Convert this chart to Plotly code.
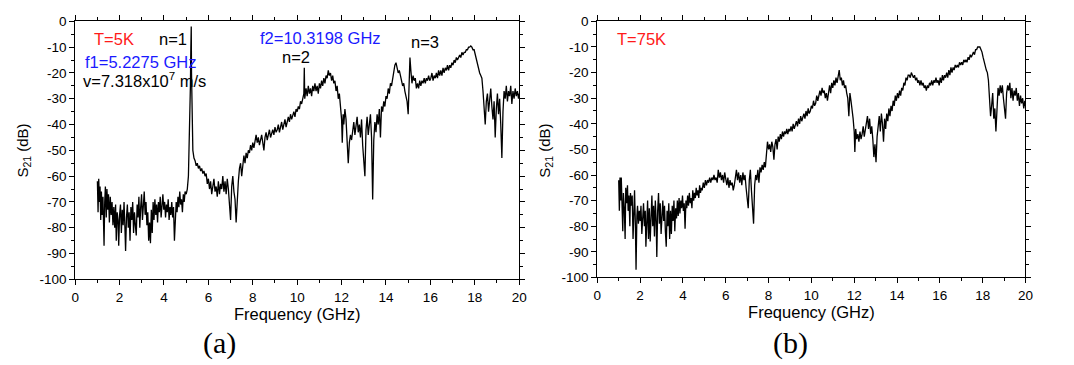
import plotly.graph_objects as go

# ---------------- data ----------------
freq_5K = [1.00,1.03,1.06,1.09,1.12,1.15,1.18,1.21,1.25,1.30,1.33,1.36,1.40,1.43,1.47,1.50,1.54,1.58,1.62,1.66,
           1.70,1.74,1.78,1.82,1.85,1.89,1.93,1.96,2.00,2.04,2.08,2.12,2.16,2.20,2.24,2.27,2.31,2.35,2.39,2.43,
           2.47,2.51,2.55,2.59,2.63,2.67,2.71,2.75,2.79,2.83,2.87,2.91,2.95,2.99,3.03,3.07,3.11,3.15,3.19,3.23,
           3.27,3.31,3.35,3.39,3.43,3.47,3.51,3.55,3.59,3.63,3.67,3.71,3.75,3.79,3.83,3.87,3.91,3.95,3.99,4.03,
           4.07,4.11,4.15,4.19,4.23,4.27,4.31,4.35,4.39,4.43,4.47,4.51,4.55,4.59,4.63,4.67,4.71,4.75,4.79,4.83,
           4.87,4.91,4.95,5.00,5.05,5.10,5.15,5.19,5.21,5.2275,5.24,5.27,5.30,5.35,5.40,5.45,5.50,5.55,5.60,5.65,
           5.70,5.75,5.80,5.85,5.90,5.95,6.00,6.05,6.10,6.15,6.20,6.25,6.30,6.35,6.40,6.45,6.50,6.55,6.60,6.65,
           6.70,6.75,6.80,6.85,6.90,6.95,7.00,7.05,7.10,7.15,7.20,7.25,7.30,7.35,7.40,7.45,7.50,7.55,7.60,7.65,
           7.70,7.75,7.80,7.85,7.90,7.95,8.00,8.05,8.10,8.15,8.20,8.25,8.30,8.35,8.40,8.45,8.50,8.55,8.60,8.65,
           8.70,8.75,8.80,8.85,8.90,8.95,9.00,9.05,9.10,9.15,9.20,9.25,9.30,9.35,9.40,9.45,9.50,9.55,9.60,9.65,
           9.70,9.75,9.80,9.85,9.90,9.95,10.00,10.05,10.10,10.15,10.20,10.25,10.30,10.32,10.34,10.40,10.45,10.50,10.55,10.60,
           10.65,10.70,10.75,10.80,10.85,10.90,10.95,11.00,11.05,11.10,11.15,11.20,11.25,11.30,11.35,11.40,11.45,11.50,11.55,11.60,
           11.65,11.70,11.75,11.80,11.85,11.90,11.95,12.00,12.03,12.07,12.10,12.15,12.20,12.25,12.30,12.35,12.40,12.45,12.50,12.55,
           12.60,12.65,12.70,12.75,12.80,12.85,12.90,12.95,13.00,13.05,13.10,13.15,13.20,13.25,13.30,13.35,13.40,13.45,13.50,13.55,
           13.60,13.65,13.70,13.75,13.80,13.85,13.90,13.95,14.00,14.05,14.10,14.15,14.20,14.25,14.30,14.35,14.40,14.45,14.50,14.55,
           14.60,14.65,14.70,14.75,14.80,14.85,14.90,14.95,15.00,15.05,15.08,15.12,15.17,15.22,15.27,15.32,15.37,15.42,15.47,15.52,
           15.57,15.62,15.67,15.72,15.77,15.82,15.87,15.92,15.97,16.02,16.07,16.12,16.17,16.22,16.27,16.32,16.37,16.42,16.47,16.52,
           16.57,16.62,16.67,16.72,16.77,16.82,16.87,16.92,16.97,17.02,17.07,17.12,17.17,17.22,17.27,17.32,17.37,17.42,17.47,17.52,
           17.57,17.62,17.67,17.72,17.77,17.82,17.87,17.92,17.97,18.02,18.07,18.12,18.17,18.22,18.27,18.32,18.37,18.42,18.47,18.52,
           18.57,18.62,18.67,18.72,18.77,18.82,18.87,18.92,18.97,19.02,19.07,19.12,19.17,19.22,19.27,19.32,19.37,19.42,19.47,19.52,
           19.57,19.62,19.67,19.72,19.77,19.82,19.87,19.92,19.97,20.00]
s21_5K = [-62,-74,-61,-70,-64,-77,-66,-75,-68,-87,-70,-64,-76,-65,-73,-67,-78,-68,-75,-70,
          -79,-72,-80,-71,-85,-74,-77,-87,-75,-71,-82,-73,-79,-70,-80,-89,-76,-71,-80,-74,
          -85,-72,-77,-70,-82,-74,-79,-83,-71,-76,-68,-80,-72,-67,-77,-69,-66,-75,-70,-79,
          -74,-85,-78,-86,-73,-82,-70,-77,-69,-75,-71,-78,-70,-74,-68,-76,-71,-67,-73,-70,
          -76,-71,-74,-69,-77,-72,-75,-70,-76,-72,-85,-73,-70,-74,-68,-72,-66,-71,-69,-74,
          -67,-70,-66,-67,-65,-60,-45,-25,-10,-2,-20,-42,-50,-53,-54,-56,-55,-57,-56,-58,
          -57,-59,-58,-60,-59,-63,-61,-65,-62,-67,-63,-61,-66,-64,-68,-62,-67,-63,-65,-60,
          -66,-62,-67,-61,-65,-70,-77,-64,-60,-66,-69,-78,-66,-62,-57,-55,-60,-56,-52,-55,
          -51,-53,-50,-51,-48,-50,-47,-49,-46,-44,-47,-45,-48,-46,-44,-47,-50,-45,-43,-46,
          -44,-42,-45,-43,-42,-44,-41,-43,-42,-40,-43,-41,-39,-42,-40,-38,-41,-38,-37,-39,
          -36,-38,-36,-35,-37,-34,-35,-33,-34,-31,-32,-30,-28,-18,-30,-26,-29,-25,-28,-26,
          -29,-25,-27,-24,-27,-25,-28,-24,-26,-23,-25,-22,-24,-21,-22,-19,-21,-20,-23,-21,
          -24,-23,-27,-25,-30,-28,-33,-38,-47,-36,-40,-34,-38,-45,-55,-47,-44,-46,-42,-39,
          -44,-41,-37,-43,-40,-45,-38,-48,-53,-60,-42,-37,-44,-40,-36,-45,-69,-46,-39,-43,
          -36,-40,-34,-45,-33,-35,-31,-33,-29,-30,-26,-28,-24,-25,-22,-19,-17,-16,-18,-20,
          -19,-22,-23,-25,-24,-27,-29,-31,-36,-24,-14,-19,-24,-21,-23,-22,-26,-24,-26,-23,
          -25,-23,-24,-22,-24,-22,-23,-21,-23,-22,-20,-23,-21,-22,-20,-22,-19,-21,-19,-21,
          -18,-20,-18,-19,-17,-19,-17,-18,-16,-17,-15,-16,-14,-15,-14,-13,-14,-12,-13,-12,
          -12,-11,-11,-10,-10,-9.5,-10,-11,-11,-13,-15,-16,-18,-20,-21,-22,-27,-34,-40,-31,
          -28,-35,-29,-26,-33,-38,-31,-45,-34,-28,-36,-30,-40,-53,-35,-27,-30,-25,-31,-27,
          -29,-25,-32,-27,-30,-26,-29,-27,-30,-28]

freq_75K = [1.00,1.03,1.06,1.09,1.12,1.16,1.19,1.22,1.26,1.30,1.33,1.37,1.41,1.44,1.48,1.52,1.55,1.59,1.63,1.67,
            1.71,1.74,1.78,1.81,1.85,1.88,1.92,1.96,2.00,2.04,2.08,2.12,2.16,2.20,2.24,2.27,2.31,2.35,2.39,2.43,
            2.47,2.51,2.55,2.59,2.63,2.67,2.71,2.75,2.78,2.82,2.86,2.90,2.94,2.98,3.02,3.06,3.10,3.14,3.18,3.22,
            3.26,3.30,3.34,3.38,3.42,3.46,3.50,3.54,3.58,3.62,3.66,3.70,3.74,3.78,3.82,3.86,3.90,3.94,3.98,4.02,
            4.06,4.10,4.14,4.18,4.22,4.26,4.30,4.34,4.38,4.42,4.46,4.50,4.54,4.58,4.62,4.66,4.70,4.74,4.78,4.82,
            4.86,4.90,4.95,5.00,5.05,5.10,5.15,5.20,5.25,5.30,5.35,5.40,5.45,5.50,5.55,5.60,5.65,5.70,5.75,5.80,
            5.85,5.90,5.95,6.00,6.05,6.10,6.15,6.20,6.25,6.30,6.35,6.40,6.45,6.50,6.55,6.60,6.65,6.70,6.75,6.80,
            6.85,6.90,6.95,7.00,7.05,7.10,7.15,7.20,7.25,7.30,7.35,7.40,7.45,7.50,7.55,7.60,7.65,7.70,7.75,7.80,
            7.85,7.90,7.95,8.00,8.05,8.10,8.15,8.20,8.25,8.30,8.35,8.40,8.45,8.50,8.55,8.60,8.65,8.70,8.75,8.80,
            8.85,8.90,8.95,9.00,9.05,9.10,9.15,9.20,9.25,9.30,9.35,9.40,9.45,9.50,9.55,9.60,9.65,9.70,9.75,9.80,
            9.85,9.90,9.95,10.00,10.05,10.10,10.15,10.20,10.25,10.30,10.35,10.40,10.45,10.50,10.55,10.60,10.65,10.70,10.75,10.80,
            10.85,10.90,10.95,11.00,11.05,11.10,11.15,11.20,11.25,11.30,11.35,11.40,11.45,11.50,11.55,11.60,11.65,11.70,11.75,11.80,
            11.85,11.90,11.95,12.00,12.03,12.07,12.12,12.17,12.22,12.27,12.32,12.37,12.42,12.47,12.52,12.57,12.62,12.67,12.72,12.77,
            12.82,12.87,12.92,12.97,13.02,13.07,13.12,13.17,13.22,13.27,13.32,13.37,13.42,13.47,13.52,13.57,13.62,13.67,13.72,13.77,
            13.82,13.87,13.92,13.97,14.02,14.07,14.12,14.17,14.22,14.27,14.32,14.37,14.42,14.47,14.52,14.57,14.62,14.67,14.72,14.77,
            14.82,14.87,14.92,14.97,15.02,15.07,15.12,15.17,15.22,15.27,15.32,15.37,15.42,15.47,15.52,15.57,15.62,15.67,15.72,15.77,
            15.82,15.87,15.92,15.97,16.02,16.07,16.12,16.17,16.22,16.27,16.32,16.37,16.42,16.47,16.52,16.57,16.62,16.67,16.72,16.77,
            16.82,16.87,16.92,16.97,17.02,17.07,17.12,17.17,17.22,17.27,17.32,17.37,17.42,17.47,17.52,17.57,17.62,17.67,17.72,17.77,
            17.82,17.87,17.92,17.97,18.02,18.07,18.12,18.17,18.22,18.27,18.32,18.37,18.42,18.47,18.52,18.57,18.62,18.67,18.72,18.77,
            18.82,18.87,18.92,18.97,19.02,19.07,19.12,19.17,19.22,19.27,19.32,19.37,19.42,19.47,19.52,19.57,19.62,19.67,19.72,19.77,
            19.82,19.87,19.92,19.97,20.00]
s21_75K = [-62,-74,-61,-70,-61,-75,-82,-67,-73,-85,-65,-71,-64,-74,-68,-80,-67,-72,-68,-85,
           -70,-66,-80,-97,-76,-72,-79,-74,-78,-72,-83,-75,-71,-80,-74,-88,-76,-70,-85,-73,
           -86,-75,-68,-80,-72,-84,-70,-78,-92,-74,-67,-79,-71,-83,-75,-70,-78,-72,-82,-88,
           -74,-80,-71,-85,-74,-83,-72,-78,-70,-82,-73,-77,-70,-76,-69,-75,-70,-73,-68,-74,
           -71,-81,-70,-73,-68,-72,-67,-71,-69,-73,-66,-70,-67,-69,-65,-68,-66,-69,-64,-67,
           -65,-66,-63,-65,-62,-64,-62,-63,-61,-63,-61,-62,-60,-62,-61,-63,-58,-61,-59,-62,
           -60,-63,-59,-62,-64,-61,-65,-62,-64,-63,-66,-64,-60,-58,-62,-59,-63,-60,-64,-59,
           -62,-60,-65,-68,-73,-62,-58,-66,-76,-79,-64,-60,-62,-58,-63,-57,-59,-56,-58,-55,
           -57,-53,-47,-50,-48,-51,-47,-49,-54,-48,-46,-50,-45,-47,-44,-46,-43,-45,-43,-44,
           -42,-44,-42,-43,-41,-43,-40,-42,-40,-39,-41,-38,-40,-37,-39,-37,-36,-38,-35,-37,
           -34,-36,-35,-33,-34,-31,-33,-32,-29,-31,-28,-27,-29,-26,-28,-27,-30,-28,-31,-27,
           -25,-28,-24,-26,-23,-25,-22,-24,-21,-19,-23,-22,-25,-23,-26,-25,-28,-30,-37,-28,
           -31,-34,-38,-43,-51,-42,-46,-44,-47,-43,-46,-44,-41,-45,-42,-40,-37,-42,-38,-44,
           -41,-46,-53,-48,-55,-45,-40,-37,-43,-36,-40,-47,-38,-42,-36,-39,-34,-37,-33,-35,
           -31,-33,-29,-31,-28,-30,-27,-29,-26,-27,-24,-25,-22,-23,-21,-21,-22,-20,-21,-22,
           -21,-23,-22,-24,-23,-25,-23,-25,-24,-26,-25,-27,-25,-26,-24,-25,-23,-25,-23,-24,
           -22,-24,-23,-25,-22,-24,-21,-23,-21,-22,-20,-22,-19,-21,-18,-20,-18,-19,-17,-18,
           -17,-18,-16,-17,-16,-17,-15,-16,-15,-16,-14,-15,-13,-14,-13,-12,-13,-11,-11,-10,
           -10,-10,-11,-12,-14,-16,-18,-19,-20,-23,-30,-37,-33,-28,-38,-34,-43,-30,-26,-29,
           -25,-28,-25,-30,-34,-38,-28,-25,-27,-24,-30,-26,-31,-27,-29,-26,-31,-28,-33,-29,
           -32,-30,-34,-31,-33]

x_ticks = [0, 2, 4, 6, 8, 10, 12, 14, 16, 18, 20]
y_ticks = [0, -10, -20, -30, -40, -50, -60, -70, -80, -90, -100]

# ---------------- figure ----------------
W, H = 1074, 365
SANS = "Liberation Sans, Arial, sans-serif"
SERIF = "Liberation Serif, Times New Roman, serif"

fig = go.Figure()
fig.add_trace(go.Scatter(x=freq_5K, y=s21_5K, mode="lines", line=dict(color="black", width=1.3),
                         xaxis="x", yaxis="y", showlegend=False))
fig.add_trace(go.Scatter(x=freq_75K, y=s21_75K, mode="lines", line=dict(color="black", width=1.3),
                         xaxis="x2", yaxis="y2", showlegend=False))


def xax(domain, anchor):
    return dict(domain=domain, anchor=anchor, range=[0, 20], tickvals=x_ticks,
                ticktext=[str(v) for v in x_ticks],
                ticks="outside", ticklen=5, tickwidth=1, tickcolor="black",
                minor=dict(ticks="outside", ticklen=3, tickwidth=1, tickcolor="black", dtick=1, tick0=0, showgrid=False),
                showline=True, linecolor="black", linewidth=1, mirror="ticks",
                showgrid=False, zeroline=False,
                tickfont=dict(family=SANS, size=13.5, color="black"),
                title=dict(text="Frequency (GHz)", font=dict(family=SANS, size=16.5, color="black"), standoff=3))


def yax(domain, anchor):
    return dict(domain=domain, anchor=anchor, range=[-100, 0], tickvals=y_ticks,
                ticktext=[str(v) for v in y_ticks],
                ticks="outside", ticklen=5, tickwidth=1, tickcolor="black",
                minor=dict(ticks="outside", ticklen=3, tickwidth=1, tickcolor="black", dtick=5, tick0=0, showgrid=False),
                showline=True, linecolor="black", linewidth=1, mirror="ticks",
                showgrid=False, zeroline=False,
                tickfont=dict(family=SANS, size=13.5, color="black"))


fig.update_layout(
    width=W, height=H,
    margin=dict(l=0, r=0, t=0, b=0),
    paper_bgcolor="white", plot_bgcolor="white",
    xaxis=xax([72 / W, 521 / W], "y"),
    yaxis=yax([1 - 284 / H, 1 - 15 / H], "x"),
    xaxis2=xax([600 / W, 1033 / W], "y2"),
    yaxis2=yax([1 - 282 / H, 1 - 15 / H], "x2"),
)

RED = "#ff1a1a"
BLUE = "#1a1aff"
ann = [
    dict(x=1.75, y=-6.8, text="T=5K", color=RED, ref="1"),
    dict(x=4.41, y=-6.8, text="n=1", color="black", ref="1"),
    dict(x=2.95, y=-15.8, text="f1=5.2275 GHz", color=BLUE, ref="1"),
    dict(x=3.1, y=-22.7, text="v=7.318x10<sup>7</sup> m/s", color="black", ref="1"),
    dict(x=11.05, y=-6.6, text="f2=10.3198 GHz", color=BLUE, ref="1"),
    dict(x=9.95, y=-13.9, text="n=2", color="black", ref="1"),
    dict(x=15.75, y=-8.1, text="n=3", color="black", ref="1"),
    dict(x=2.08, y=-6.9, text="T=75K", color=RED, ref="2"),
]
for a in ann:
    suf = "" if a["ref"] == "1" else "2"
    fig.add_annotation(x=a["x"], y=a["y"], xref="x" + suf, yref="y" + suf, text=a["text"],
                       showarrow=False, xanchor="center", yanchor="middle",
                       font=dict(family=SANS, size=16.5, color=a["color"]))

for xp in (20, 548):
    fig.add_annotation(x=xp / W, y=1 - 150 / H, xref="paper", yref="paper",
                       text="S<sub>21</sub> (dB)", textangle=-90, showarrow=False,
                       xanchor="center", yanchor="middle",
                       font=dict(family=SANS, size=15, color="black"))

fig.add_annotation(x=218 / W, y=1 - 350 / H, xref="paper", yref="paper", text="(a)", showarrow=False,
                   xanchor="center", yanchor="middle", font=dict(family=SERIF, size=30, color="black"))
fig.add_annotation(x=795 / W, y=1 - 350 / H, xref="paper", yref="paper", text="(b)", showarrow=False,
                   xanchor="center", yanchor="middle", font=dict(family=SERIF, size=30, color="black"))

fig.write_html("out.html")
